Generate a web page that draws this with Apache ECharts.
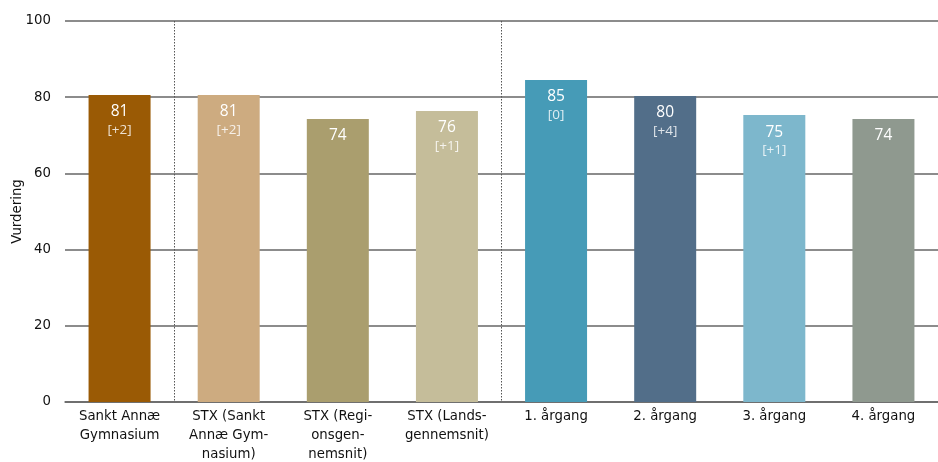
<!DOCTYPE html>
<html><head><meta charset="utf-8">
<script src="https://cdn.jsdelivr.net/npm/echarts@6/dist/echarts.min.js"></script>
<style>html,body{margin:0;padding:0;background:#fff}#c{width:938px;height:462px}</style>
</head><body><div id="c"></div>
<script>
const categories = ['Sankt Annæ\nGymnasium','STX (Sankt\nAnnæ Gym-\nnasium)','STX (Regi-\nonsgen-\nnemsnit)','STX (Lands-\ngennemsnit)','1. årgang','2. årgang','3. årgang','4. årgang'];
const values = [80.6, 80.6, 74.3, 76.4, 84.5, 80.3, 75.3, 74.3];
const valueLabels = ['81','81','74','76','85','80','75','74'];
const deltas = ['[+2]','[+2]','','[+1]','[0]','[+4]','[+1]',''];
const colors = ['#9a5a05','#cdab80','#aa9e6e','#c5bd9a','#469bb7','#526e89','#7db7cc','#8f998f'];
const yTicks = [0,20,40,60,80,100];

const chart = echarts.init(document.getElementById('c'));
chart.setOption({
  animation:false,
  grid:{left:65,right:0,top:21,bottom:60,outerBoundsMode:'none',containLabel:false},
  xAxis:{type:'category',data:categories,
    axisLine:{lineStyle:{color:'#666',width:1.5}},
    axisTick:{show:false},
    axisLabel:{color:'#111',fontFamily:'DejaVu Sans',fontSize:13.3,lineHeight:19,margin:5,interval:0},
    splitLine:{show:true,interval:(i)=>i===1||i===4,lineStyle:{color:'#555',type:[1.5,1.5],width:1}}
  },
  yAxis:{type:'value',min:yTicks[0],max:yTicks[yTicks.length-1],interval:20,
    name:'Vurdering',nameLocation:'middle',nameGap:41,nameMoveOverlap:false,
    nameTextStyle:{color:'#111',fontFamily:'DejaVu Sans',fontSize:13.3},
    axisLine:{show:false},axisTick:{show:false},
    axisLabel:{color:'#111',fontFamily:'DejaVu Sans',fontSize:13.3,margin:14},
    splitLine:{lineStyle:{color:'#666',width:1.5}}
  },
  series:[{type:'bar',barWidth:62,
    data:values.map((v,i)=>({value:v,itemStyle:{color:colors[i]}})),
    label:{show:true,position:'insideTop',distance:7,
      formatter:(p)=>deltas[p.dataIndex]?'{a|'+valueLabels[p.dataIndex]+'}\n{b|'+deltas[p.dataIndex]+'}':'{a|'+valueLabels[p.dataIndex]+'}',
      rich:{a:{color:'#fff',fontFamily:'Open Sans',fontSize:15.5,lineHeight:20},
            b:{color:'rgba(255,255,255,0.82)',fontFamily:'Open Sans',fontSize:13.5,lineHeight:17}}
    }
  }]
});
</script></body></html>
